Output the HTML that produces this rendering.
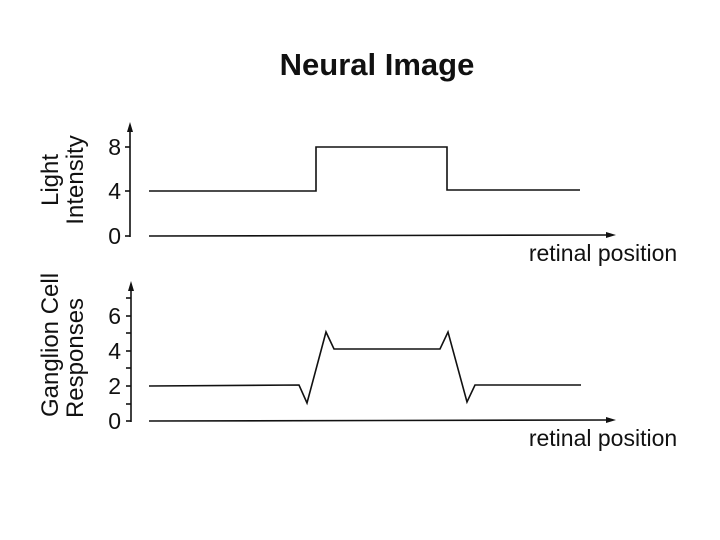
<!DOCTYPE html>
<html><head><meta charset="utf-8"><style>
html,body{margin:0;padding:0;background:#fff;}
svg{display:block;}
text{font-family:"Liberation Sans",Arial,sans-serif;fill:#111;}
</style></head><body>
<svg width="720" height="540" viewBox="0 0 720 540" xmlns="http://www.w3.org/2000/svg">
<rect width="720" height="540" fill="#fff"/>
<text x="377" y="75" font-size="31" font-weight="bold" text-anchor="middle">Neural Image</text>
<g stroke="#111" stroke-width="1.6" fill="none">
<line x1="130" y1="130" x2="130" y2="237"/>
<line x1="125" y1="147" x2="130" y2="147"/>
<line x1="125" y1="191" x2="130" y2="191"/>
<line x1="125" y1="236" x2="130" y2="236"/>
<line x1="149" y1="236" x2="608" y2="235"/>
<polyline points="149,191 316,191 316,147 447,147 447,190 580,190"/>
<line x1="131" y1="289" x2="131" y2="422"/>
<line x1="126" y1="298" x2="131" y2="298"/>
<line x1="126" y1="316" x2="131" y2="316"/>
<line x1="126" y1="333" x2="131" y2="333"/>
<line x1="126" y1="351" x2="131" y2="351"/>
<line x1="126" y1="368" x2="131" y2="368"/>
<line x1="126" y1="386" x2="131" y2="386"/>
<line x1="126" y1="404" x2="131" y2="404"/>
<line x1="126" y1="421" x2="131" y2="421"/>
<line x1="149" y1="421" x2="608" y2="420"/>
<polyline points="149,386 299,385 307,403 326,332 334,349 440,349 448,332 467,402 475,385 581,385"/>
</g>
<g fill="#111">
<polygon points="130,122 127,132 133,132"/>
<polygon points="131,281 128,291 134,291"/>
<polygon points="616,235 606,232 606,238"/>
<polygon points="616,420 606,417 606,423"/>
</g>
<g font-size="23" text-anchor="end">
<text x="121" y="155">8</text>
<text x="121" y="199">4</text>
<text x="121" y="244">0</text>
<text x="121" y="324">6</text>
<text x="121" y="359">4</text>
<text x="121" y="394">2</text>
<text x="121" y="429">0</text>
</g>
<text x="603" y="261" font-size="23" text-anchor="middle">retinal position</text>
<text x="603" y="446" font-size="23" text-anchor="middle">retinal position</text>
<g font-size="24" text-anchor="middle">
<text transform="translate(58,180) rotate(-90)">Light</text>
<text transform="translate(83,180) rotate(-90)">Intensity</text>
<text transform="translate(58,345) rotate(-90)">Ganglion Cell</text>
<text transform="translate(83,358) rotate(-90)">Responses</text>
</g>
</svg>
</body></html>
